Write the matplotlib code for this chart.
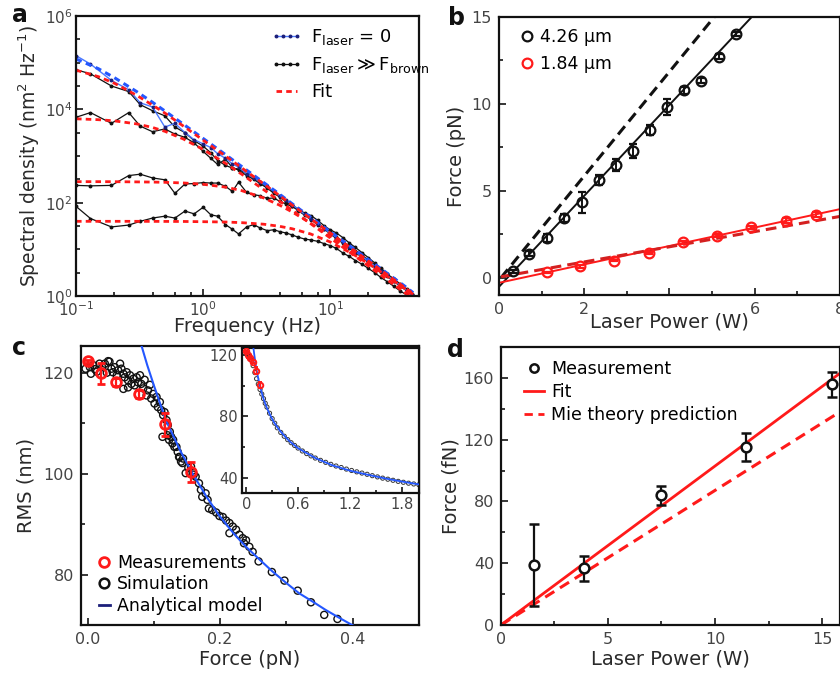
import numpy as np
import matplotlib.pyplot as plt
from matplotlib.lines import Line2D
from matplotlib.ticker import FixedLocator, NullFormatter, MultipleLocator, LogFormatterSciNotation

plt.rcParams['font.family'] = ['DejaVu Sans']
plt.rcParams['mathtext.default'] = 'regular'

# ---------------- panel a : spectral densities (log10 values) ----------------
freq = [0.10, 0.13, 0.19, 0.26, 0.32, 0.40, 0.50, 0.60, 0.72, 0.85, 1.0, 1.15, 1.3, 1.5,
        1.7, 1.9, 2.2, 2.5, 2.8, 3.2, 3.6, 4.0, 4.5, 5.0, 5.6, 6.3, 7.1, 8.0, 9.0, 10,
        11.2, 12.6, 14.1, 15.8, 17.8, 20, 22.4, 25, 28, 31.6, 35.5, 40, 44]
psd_free = [5.15, 4.97, 4.62, 4.42, 4.14, 4.05, 3.62, 3.70, 3.50, 3.35, 3.26, 3.18, 3.05, 2.95,
            2.83, 2.76, 2.62, 2.53, 2.45, 2.35, 2.24, 2.15, 2.05, 1.96, 1.86, 1.75, 1.65, 1.55,
            1.44, 1.35, 1.25, 1.15, 1.05, 0.95, 0.85, 0.74, 0.64, 0.54, 0.44, 0.33, 0.23, 0.12, 0.02]
psd_1 = [4.85, 4.76, 4.50, 4.38, 4.10, 3.97, 3.86, 3.62, 3.50, 3.33, 3.21, 3.07, 2.90, 2.80,
         2.74, 2.72, 2.62, 2.52, 2.44, 2.34, 2.22, 2.15, 2.04, 1.96, 1.86, 1.76, 1.66, 1.55,
         1.45, 1.37, 1.27, 1.16, 1.07, 0.97, 0.87, 0.77, 0.67, 0.57, 0.47, 0.37, 0.26, 0.15, 0.05]
psd_2 = [3.83, 3.93, 3.70, 3.93, 3.64, 3.52, 3.58, 3.47, 3.40, 3.28, 3.10, 2.95, 2.82, 2.93,
         2.75, 2.70, 2.58, 2.50, 2.41, 2.31, 2.20, 2.12, 2.02, 1.93, 1.83, 1.73, 1.63, 1.52,
         1.43, 1.33, 1.23, 1.13, 1.03, 0.93, 0.83, 0.72, 0.62, 0.52, 0.42, 0.32, 0.21, 0.11, 0.02]
psd_3 = [2.37, 2.36, 2.37, 2.58, 2.61, 2.53, 2.49, 2.20, 2.40, 2.41, 2.43, 2.42, 2.42, 2.35,
         2.24, 2.44, 2.22, 2.17, 2.15, 2.09, 2.10, 2.03, 1.97, 1.92, 1.85, 1.78, 1.72, 1.62,
         1.50, 1.42, 1.35, 1.25, 1.14, 1.04, 0.93, 0.82, 0.71, 0.59, 0.47, 0.36, 0.24, 0.12, 0.03]
psd_4 = [1.92, 1.66, 1.48, 1.52, 1.60, 1.67, 1.71, 1.67, 1.82, 1.76, 1.90, 1.74, 1.71, 1.53,
         1.43, 1.33, 1.48, 1.53, 1.46, 1.40, 1.42, 1.38, 1.35, 1.31, 1.26, 1.22, 1.20, 1.17,
         1.12, 1.08, 1.02, 0.92, 0.85, 0.76, 0.68, 0.59, 0.50, 0.40, 0.31, 0.21, 0.11, 0.02, -0.06]

fit_freq = [0.1, 0.15, 0.2, 0.3, 0.4, 0.5, 0.7, 1, 1.5, 2, 3, 4, 5, 7, 10, 15, 20, 30, 40, 45]
fit_free = [5.08, 4.87, 4.68, 4.38, 4.15, 3.965, 3.68, 3.376, 3.03, 2.78, 2.43, 2.18, 1.98,
            1.69, 1.38, 1.03, 0.78, 0.43, 0.18, 0.07]
fit_1 = [4.84, 4.70, 4.56, 4.30, 4.09, 3.92, 3.64, 3.34, 3.00, 2.75, 2.40, 2.15, 1.95, 1.66,
         1.35, 1.00, 0.75, 0.40, 0.15, 0.05]
fit_2 = [3.797, 3.778, 3.753, 3.688, 3.611, 3.529, 3.364, 3.141, 2.843, 2.615, 2.278, 2.034,
         1.843, 1.553, 1.245, 0.893, 0.643, 0.291, 0.041, -0.06]
fit_3 = [2.45, 2.45, 2.449, 2.445, 2.441, 2.436, 2.422, 2.394, 2.333, 2.26, 2.101, 1.946,
         1.804, 1.563, 1.282, 0.947, 0.703, 0.355, 0.107, 0.005]
fit_4 = [1.60, 1.60, 1.60, 1.60, 1.599, 1.598, 1.597, 1.592, 1.585, 1.572, 1.538, 1.493,
         1.442, 1.33, 1.158, 0.903, 0.693, 0.372, 0.133, 0.034]

# ---------------- panel b : force vs laser power ----------------
b_black_x = [0.34, 0.71, 1.12, 1.53, 1.95, 2.34, 2.75, 3.14, 3.54, 3.95, 4.35, 4.75, 5.16, 5.55]
b_black_y = [0.36, 1.38, 2.28, 3.43, 4.33, 5.63, 6.49, 7.26, 8.51, 9.81, 10.77, 11.32, 12.72, 14.02]
b_black_err = [0.1, 0.15, 0.25, 0.25, 0.6, 0.3, 0.35, 0.4, 0.3, 0.45, 0.2, 0.15, 0.15, 0.1]
b_red_x = [1.12, 1.91, 2.71, 3.51, 4.32, 5.12, 5.92, 6.73, 7.44]
b_red_y = [0.30, 0.65, 0.98, 1.42, 2.03, 2.41, 2.89, 3.28, 3.62]
b_red_err = [0.05, 0.08, 0.05, 0.05, 0.08, 0.1, 0.1, 0.15, 0.15]
b_black_fit_x, b_black_fit_y = [0, 5.93], [-0.53, 15.0]
b_black_theory_x, b_black_theory_y = [0.05, 5.05], [0.0, 15.0]
b_red_fit_x, b_red_fit_y = [0, 8], [-0.3, 3.94]
b_red_theory_x, b_red_theory_y = [0.05, 8], [0.05, 3.52]
b_xtick_labels = ['0', '2', '', '6', '8']

# ---------------- panel c : RMS vs force ----------------
c_meas_x = [0.0, 0.0195, 0.043, 0.078, 0.117, 0.156]
c_meas_y = [122.3, 119.9, 118.1, 115.7, 109.8, 100.4]
c_meas_err = [0.3, 2.1, 0.8, 0.8, 2.3, 2.0]
c_sim_x = [-0.003, 0.0035, 0.0085, 0.011, 0.005, 0.014, 0.018, 0.022, 0.026, 0.031, 0.033, 0.029,
           0.036, 0.038, 0.041, 0.044, 0.046, 0.049, 0.051, 0.054, 0.056, 0.059, 0.061, 0.064,
           0.066, 0.069, 0.071, 0.074, 0.076, 0.079, 0.081, 0.054, 0.061, 0.084, 0.086, 0.089,
           0.091, 0.094, 0.096, 0.099, 0.101, 0.104, 0.106, 0.109, 0.111, 0.114, 0.116, 0.113,
           0.119, 0.121, 0.121, 0.123, 0.124, 0.126, 0.128, 0.129, 0.131, 0.134, 0.136, 0.138,
           0.139, 0.141, 0.143, 0.144, 0.148, 0.152, 0.156, 0.160, 0.163, 0.168, 0.171, 0.173,
           0.178, 0.181, 0.183, 0.188, 0.194, 0.199, 0.204, 0.209, 0.214, 0.219, 0.224, 0.214,
           0.229, 0.234, 0.239, 0.236, 0.244, 0.249, 0.258, 0.278, 0.297, 0.317, 0.337, 0.357, 0.377]
c_sim_y = [120.8, 121.1, 121.5, 120.7, 119.8, 120.2, 121.8, 121.1, 121.8, 122.3, 122.2, 120.0,
           120.8, 120.1, 121.1, 119.5, 120.5, 121.8, 120.8, 119.8, 119.1, 120.1, 118.5, 119.5,
           117.8, 118.8, 117.5, 119.1, 118.1, 119.5, 117.8, 116.8, 117.1, 116.9, 118.6, 115.5,
           116.5, 117.6, 114.9, 115.8, 113.9, 115.2, 113.2, 114.2, 112.6, 111.6, 112.2, 107.3,
           110.6, 109.6, 107.6, 106.7, 108.3, 107.3, 106.0, 106.7, 105.3, 105.3, 104.3, 103.3,
           103.3, 102.4, 102.1, 103.0, 100.1, 101.2, 101.4, 99.8, 99.4, 98.1, 96.8, 95.4,
           96.1, 94.8, 93.1, 92.8, 92.3, 91.6, 91.4, 90.7, 90.2, 89.5, 88.9, 88.2,
           87.9, 87.2, 86.8, 86.2, 85.5, 84.5, 82.6, 80.5, 78.8, 76.8, 74.5, 72.0, 71.2]
c_model_x = [0.075, 0.081, 0.09, 0.10, 0.118, 0.14, 0.158, 0.18, 0.198, 0.22, 0.239, 0.26, 0.279,
             0.30, 0.319, 0.34, 0.359, 0.38, 0.399, 0.45, 0.5, 0.6, 0.8, 1.0, 1.2, 1.4, 1.6, 1.8, 2.0]
c_model_y = [128.5, 125.5, 121.5, 117.5, 110.6, 104.5, 100.1, 95.3, 91.8, 88.2, 85.5, 82.9, 80.6,
             78.3, 76.3, 74.6, 73.0, 71.4, 70.0, 66.8, 63.8, 59.2, 52.8, 48.0, 44.6, 42.0, 39.6, 37.5, 35.6]
inset_sim_x = [0.00, 0.02, 0.04, 0.06, 0.08, 0.10, 0.12, 0.14, 0.16, 0.18, 0.20, 0.22, 0.24, 0.27,
               0.30, 0.33, 0.36, 0.40, 0.44, 0.48, 0.52, 0.56, 0.60, 0.65, 0.70, 0.75, 0.80, 0.86,
               0.92, 0.98, 1.04, 1.10, 1.16, 1.22, 1.28, 1.34, 1.40, 1.46, 1.52, 1.58, 1.64, 1.70,
               1.76, 1.82, 1.88, 1.94, 2.00]
inset_sim_y = [121.5, 120.5, 119.0, 116.5, 113.0, 108.5, 104.5, 101.0, 97.5, 94.5, 91.5, 88.5, 86.0,
               82.0, 78.5, 75.5, 72.5, 69.5, 67.0, 64.8, 62.8, 61.0, 59.3, 57.4, 55.7, 54.2, 52.8,
               51.3, 50.0, 48.7, 47.6, 46.6, 45.6, 44.7, 43.8, 43.0, 42.2, 41.3, 40.5, 39.7, 39.0,
               38.3, 37.6, 37.0, 36.4, 35.9, 35.4]

# ---------------- panel d : force vs laser power (small particle) ----------------
d_x = [1.56, 3.89, 7.48, 11.45, 15.45]
d_y = [38.8, 36.7, 84.1, 115.4, 156.0]
d_err = [26.5, 8.2, 6.2, 9.2, 8.1]
d_fit_x, d_fit_y = [0, 15.84], [0, 163]
d_mie_x, d_mie_y = [0, 15.84], [0, 138]

RED = '#ff1a1a'
BLUE = '#2457ff'
NAVY = '#1c1f7a'
TXT = '#2a2a2a'
TICK = '#444444'


def style(ax, size=11.5, pad=5):
    for s in ax.spines.values():
        s.set_linewidth(1.6)
        s.set_color('#111111')
    ax.tick_params(which='both', direction='in', width=1.1, labelsize=size,
                   labelcolor=TICK, pad=pad)
    ax.tick_params(which='major', length=5)
    ax.tick_params(which='minor', length=3)


fig = plt.figure(figsize=(8.4, 6.75), dpi=100)

# ---- a
ax = fig.add_axes([0.0905, 0.5615, 0.4083, 0.4148])
f = np.array(freq)
for curve in [psd_1, psd_2, psd_3, psd_4]:
    ax.plot(f, 10 ** np.array(curve), color='#111111', lw=0.9, marker='o', ms=1.8)
ax.plot(f, 10 ** np.array(psd_free), color='#4a78ff', lw=1.0, marker='o', ms=1.8,
        mfc=NAVY, mec=NAVY)
ff = np.array(fit_freq)
ax.plot(ff, 10 ** np.array(fit_free), color=BLUE, lw=2.2, ls=(0, (2, 1.5)))
for curve in [fit_1, fit_2, fit_3, fit_4]:
    ax.plot(ff, 10 ** np.array(curve), color=RED, lw=2.0, ls=(0, (2, 1.5)))
ax.set_xscale('log')
ax.set_yscale('log')
ax.set_xlim(0.1, 50)
ax.set_ylim(1, 1e6)
ax.yaxis.set_major_locator(FixedLocator([1, 1e2, 1e4, 1e6]))
ax.yaxis.set_major_formatter(LogFormatterSciNotation())
ax.yaxis.set_minor_locator(FixedLocator([10 ** 0.5, 10, 10 ** 1.5, 10 ** 2.5, 1e3,
                                         10 ** 3.5, 10 ** 4.5, 1e5, 10 ** 5.5]))
ax.yaxis.set_minor_formatter(NullFormatter())
ax.xaxis.set_minor_locator(FixedLocator([0.2, 0.4, 0.6, 0.8, 2, 4, 6, 8, 20, 40]))
ax.xaxis.set_minor_formatter(NullFormatter())
style(ax, 11, pad=1.5)
ax.tick_params(axis='x', pad=3)
ax.tick_params(axis='y', pad=2.5)
ax.set_xlabel('Frequency (Hz)', fontsize=14, color=TXT, labelpad=-1)
ax.set_ylabel('Spectral density (nm$^2$ Hz$^{-1}$)', fontsize=13.5, color=TXT, labelpad=2)
h_a = [Line2D([], [], color='#4a78ff', lw=1.0, marker='o', ms=1.8, mfc=NAVY, mec=NAVY),
       Line2D([], [], color='#111111', lw=0.9, marker='o', ms=1.8),
       Line2D([], [], color=RED, lw=2.0, ls=(0, (2, 1.5)))]
ax.legend(h_a, ['F$_{\\rm laser}$ = 0', 'F$_{\\rm laser}\\gg$F$_{\\rm brown}$', 'Fit'],
          loc='upper left', bbox_to_anchor=(0.54, 0.993), frameon=False, fontsize=13,
          borderpad=0, handlelength=1.8, handletextpad=0.45, labelspacing=0.45, numpoints=4)

# ---- b
ax = fig.add_axes([0.594, 0.563, 0.406, 0.4119])
ax.plot(b_black_fit_x, b_black_fit_y, color='#111111', lw=1.4)
ax.plot(b_black_theory_x, b_black_theory_y, color='#111111', lw=2.2, ls=(0, (3.5, 2)))
ax.plot(b_red_fit_x, b_red_fit_y, color=RED, lw=1.4)
ax.plot(b_red_theory_x, b_red_theory_y, color='#d42020', lw=2.2, ls=(0, (3.5, 2)))
ax.errorbar(b_black_x, b_black_y, yerr=b_black_err, fmt='o', ms=7, mfc='none', mec='#111111',
            mew=1.6, ecolor='#111111', elinewidth=1.4, capsize=3, capthick=1.4)
ax.errorbar(b_red_x, b_red_y, yerr=b_red_err, fmt='o', ms=7, mfc='none', mec=RED,
            mew=1.6, ecolor=RED, elinewidth=1.4, capsize=3, capthick=1.4)
ax.set_xlim(0, 8)
ax.set_ylim(-1, 15)
ax.set_xticks([0, 2, 4, 6, 8])
ax.set_xticklabels(b_xtick_labels)
ax.xaxis.set_minor_locator(MultipleLocator(1))
ax.yaxis.set_major_locator(MultipleLocator(5))
ax.yaxis.set_minor_locator(MultipleLocator(2.5))
style(ax)
ax.set_xlabel('Laser Power (W)', fontsize=14, color=TXT, labelpad=-3)
ax.set_ylabel('Force (pN)', fontsize=14, color=TXT, labelpad=4)
h_b = [Line2D([], [], ls='none', marker='o', ms=7, mfc='none', mec='#111111', mew=1.6),
       Line2D([], [], ls='none', marker='o', ms=7, mfc='none', mec=RED, mew=1.6)]
ax.legend(h_b, ['4.26 μm', '1.84 μm'], loc='upper left', bbox_to_anchor=(0.04, 0.99),
          frameon=False, fontsize=12.5, borderpad=0, handlelength=0.7, handletextpad=0.35,
          labelspacing=0.5)

# ---- c
ax = fig.add_axes([0.0964, 0.0741, 0.4024, 0.4133])
ax.scatter(c_sim_x, c_sim_y, s=26, facecolors='none', edgecolors='#111111', linewidths=1.0,
           zorder=2)
ax.plot(c_model_x, c_model_y, color=BLUE, lw=1.5, zorder=3)
ax.errorbar(c_meas_x, c_meas_y, yerr=c_meas_err, fmt='o', ms=7, mfc='none', mec=RED,
            mew=2.0, ecolor=RED, elinewidth=1.6, capsize=3, capthick=1.6, zorder=4)
ax.set_xlim(-0.01, 0.5)
ax.set_ylim(70, 125.3)
ax.xaxis.set_major_locator(MultipleLocator(0.2))
ax.xaxis.set_minor_locator(MultipleLocator(0.1))
ax.yaxis.set_major_locator(MultipleLocator(20))
ax.yaxis.set_minor_locator(MultipleLocator(10))
style(ax)
ax.set_xlabel('Force (pN)', fontsize=14, color=TXT, labelpad=2)
ax.set_ylabel('RMS (nm)', fontsize=14, color=TXT, labelpad=6)
h_c = [Line2D([], [], ls='none', marker='o', ms=7, mfc='none', mec=RED, mew=2.0),
       Line2D([], [], ls='none', marker='o', ms=7, mfc='none', mec='#111111', mew=1.8),
       Line2D([], [], color=NAVY, lw=2.0)]
ax.legend(h_c, ['Measurements', 'Simulation', 'Analytical model'], loc='lower left',
          bbox_to_anchor=(0.028, 0.005), frameon=False, fontsize=12.5, borderpad=0,
          handlelength=0.6, handletextpad=0.45, labelspacing=0.2)

# inset
ins = fig.add_axes([0.288, 0.2696, 0.2107, 0.2148])
ins.scatter(inset_sim_x, inset_sim_y, s=9, facecolors='none', edgecolors='#333333',
            linewidths=0.7, zorder=2)
ins.plot(c_model_x, c_model_y, color=BLUE, lw=1.3, zorder=3)
ins.errorbar(c_meas_x, c_meas_y, yerr=c_meas_err, fmt='o', ms=4, mfc='none', mec=RED,
             mew=1.4, ecolor=RED, elinewidth=1.0, capsize=1.5, zorder=4)
ins.set_xlim(-0.05, 2.0)
ins.set_ylim(30, 124.5)
ins.xaxis.set_major_locator(MultipleLocator(0.6))
ins.xaxis.set_minor_locator(MultipleLocator(0.3))
ins.yaxis.set_major_locator(MultipleLocator(40))
ins.yaxis.set_minor_locator(MultipleLocator(20))
style(ins, 10.5)
ins.tick_params(which='major', length=4, pad=3)
ins.tick_params(which='minor', length=2.5)
ins.xaxis.set_major_formatter(plt.FuncFormatter(lambda v, p: '%g' % round(v, 1)))
ins.yaxis.set_major_formatter(plt.FuncFormatter(lambda v, p: '%d' % v))
ins.patch.set_facecolor('white')

# ---- d
ax = fig.add_axes([0.5964, 0.0741, 0.4036, 0.4119])
ax.plot(d_fit_x, d_fit_y, color=RED, lw=2.0)
ax.plot(d_mie_x, d_mie_y, color=RED, lw=2.2, ls=(0, (3.5, 2.2)))
ax.errorbar(d_x, d_y, yerr=d_err, fmt='o', ms=7, mfc='white', mec='#111111', mew=1.8,
            ecolor='#111111', elinewidth=1.6, capsize=3.5, capthick=1.6, zorder=4)
ax.set_xlim(0, 15.84)
ax.set_ylim(0, 180)
ax.xaxis.set_major_locator(MultipleLocator(5))
ax.xaxis.set_minor_locator(MultipleLocator(2.5))
ax.yaxis.set_major_locator(MultipleLocator(40))
ax.yaxis.set_minor_locator(MultipleLocator(20))
style(ax)
ax.set_xlabel('Laser Power (W)', fontsize=14, color=TXT, labelpad=2)
ax.set_ylabel('Force (fN)', fontsize=14, color=TXT, labelpad=2)
h_d = [Line2D([], [], ls='none', marker='o', ms=6, mfc='none', mec='#111111', mew=1.8),
       Line2D([], [], color=RED, lw=2.0),
       Line2D([], [], color=RED, lw=2.0, ls=(0, (3, 2)))]
ax.legend(h_d, ['Measurement', 'Fit', 'Mie theory prediction'], loc='upper left',
          bbox_to_anchor=(0.041, 0.985), frameon=False, fontsize=12.5, borderpad=0,
          handlelength=1.15, handletextpad=0.45, labelspacing=0.3)

# panel letters
for x, y, s in [(0.014, 0.967, 'a'), (0.533, 0.963, 'b'), (0.014, 0.474, 'c'), (0.532, 0.471, 'd')]:
    fig.text(x, y, s, fontsize=17, fontweight='bold', va='baseline', ha='left', color='#111111')

fig.savefig('out.png', dpi=100)
